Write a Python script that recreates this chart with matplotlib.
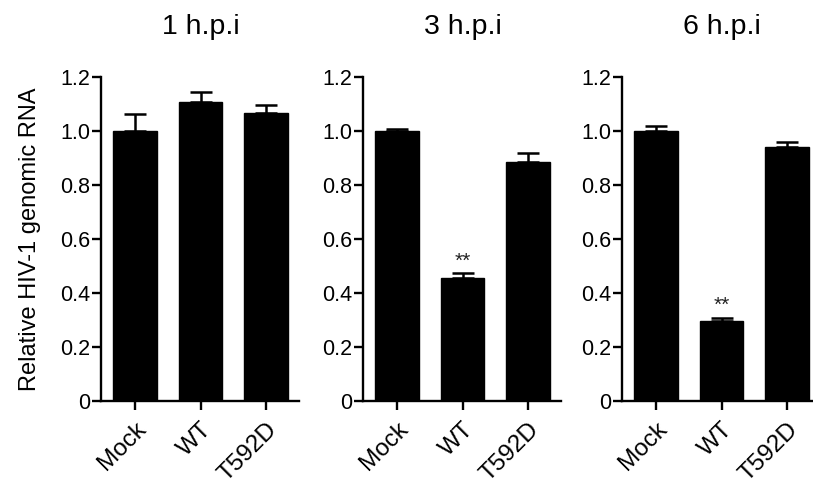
import matplotlib
matplotlib.use("Agg")
import matplotlib.pyplot as plt
from matplotlib.transforms import blended_transform_factory

plt.rcParams['font.family'] = ['Liberation Sans', 'DejaVu Sans']

# Data
categories = ["Mock", "WT", "T592D"]
panel_titles = ["1 h.p.i", "3 h.p.i", "6 h.p.i"]
means_1h = [1.00, 1.106, 1.066]
errs_1h = [0.063, 0.037, 0.030]
means_3h = [1.00, 0.457, 0.885]
errs_3h = [0.008, 0.016, 0.032]
means_6h = [1.00, 0.297, 0.940]
errs_6h = [0.020, 0.011, 0.018]
significance = [None, "**", "**"]   # marker placed above WT bar
y_ticks = [0, 0.2, 0.4, 0.6, 0.8, 1.0, 1.2]
y_tick_labels = ["0", "0.2", "0.4", "0.6", "0.8", "1.0", "1.2"]
y_label = "Relative HIV-1 genomic RNA"

W, H = 813, 490
fig = plt.figure(figsize=(W / 100, H / 100), dpi=100)

unit = 65.5               # pixels per category step
left_pad = 0.52
bottom_px, top_px = 401, 77
panel_lefts = [101, 363, 622]
panel_rights = [2.5, 2.5, 2.4]

all_means = [means_1h, means_3h, means_6h]
all_errs = [errs_1h, errs_3h, errs_6h]

axes = []
for i in range(3):
    xr = panel_rights[i]
    width_px = (xr + left_pad) * unit
    ax = fig.add_axes([panel_lefts[i] / W, (H - bottom_px) / H,
                       width_px / W, (bottom_px - top_px) / H])
    x = list(range(len(categories)))
    ax.bar(x, all_means[i], width=0.66, color="black", edgecolor="black", zorder=2)
    ax.errorbar(x, all_means[i], yerr=[[0] * 3, all_errs[i]], fmt="none",
                ecolor="black", elinewidth=1.8, capsize=8.2, capthick=1.8, zorder=1)
    ax.set_xlim(-left_pad, xr)
    ax.set_ylim(0, 1.2)
    ax.set_yticks(y_ticks)
    ax.set_yticklabels(y_tick_labels)
    ax.set_xticks(x)
    ax.set_xticklabels(categories, rotation=45, ha="right", va="top",
                       rotation_mode="anchor")
    for s in ["top", "right"]:
        ax.spines[s].set_visible(False)
    for s in ["left", "bottom"]:
        ax.spines[s].set_linewidth(1.7)
    ax.tick_params(axis="both", length=6.5, width=1.7, color="black")
    ax.tick_params(axis="y", labelsize=15.5, pad=1)
    ax.tick_params(axis="x", labelsize=17.5, pad=6)

    tr = blended_transform_factory(ax.transData, fig.transFigure)
    ax.text(1, (H - 34) / H, panel_titles[i], transform=tr, ha="center",
            va="baseline", fontsize=20.5)

    mark = significance[i]
    if mark:
        ax.text(1, all_means[i][1] + all_errs[i][1] + 0.01, mark, ha="center",
                va="bottom", fontsize=15, color="#222222")
    axes.append(ax)

axes[0].set_ylabel(y_label, fontsize=17, labelpad=14)

fig.savefig("out.png", dpi=100, facecolor="white")
